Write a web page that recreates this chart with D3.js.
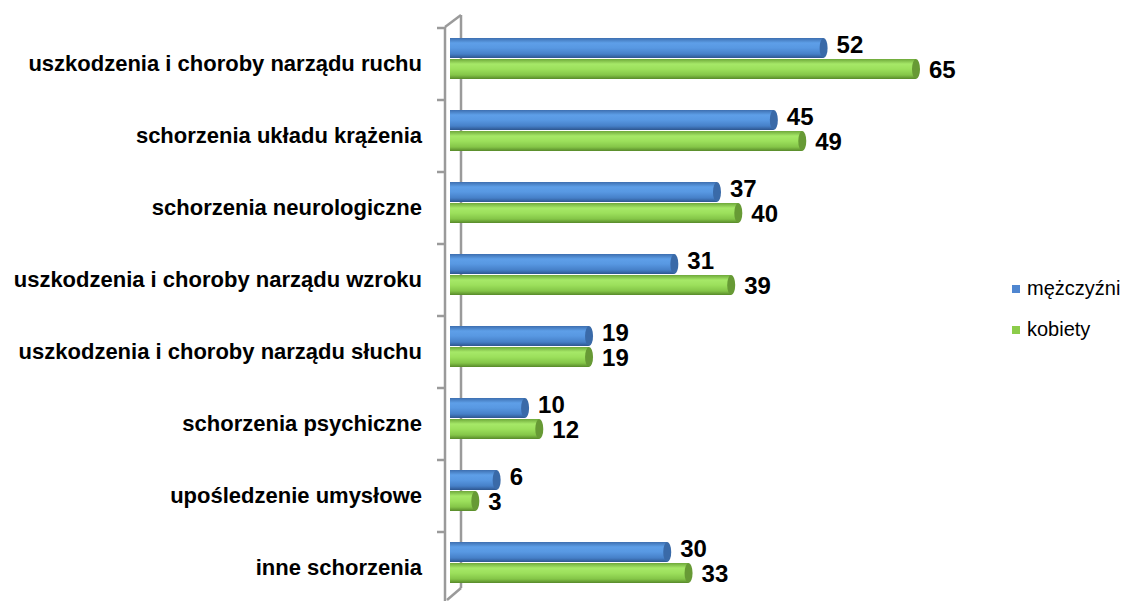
<!DOCTYPE html>
<html><head><meta charset="utf-8">
<script src="https://cdn.jsdelivr.net/npm/d3@7"></script>
<style>body{margin:0;background:#fff}svg{display:block}</style>
</head><body>
<script>
const categories = ["uszkodzenia i choroby narządu ruchu","schorzenia układu krążenia","schorzenia neurologiczne","uszkodzenia i choroby narządu wzroku","uszkodzenia i choroby narządu słuchu","schorzenia psychiczne","upośledzenie umysłowe","inne schorzenia"];
const men = [52,45,37,31,19,10,6,30];
const women = [65,49,40,39,19,12,3,33];
const seriesNames = ["mężczyźni","kobiety"];

const W=1128,H=601;
const svg=d3.select("body").append("svg").attr("width",W).attr("height",H);
const defs=svg.append("defs");
function grad(id,stops){const g=defs.append("linearGradient").attr("id",id).attr("x1",0).attr("y1",0).attr("x2",0).attr("y2",1);
 stops.forEach(s=>g.append("stop").attr("offset",s[0]).attr("stop-color",s[1]));}
grad("gBlue",[[0,"#3d6fb0"],[0.25,"#5e9fe8"],[0.5,"#5898e2"],[0.8,"#4680c8"],[1,"#2d568f"]]);
grad("gGreen",[[0,"#6ea83a"],[0.25,"#a6e868"],[0.5,"#9ce05c"],[0.8,"#84c548"],[1,"#57892a"]]);

const y=d3.scaleBand().domain(categories).range([28,604]);
const x=d3.scaleLinear().domain([0,65]).range([454,916]);
const depth=12, dx=16;

const ax=svg.append("g").attr("stroke","#9a9a9a").attr("stroke-width",2.5).attr("fill","none");
ax.append("line").attr("x1",445).attr("x2",445).attr("y1",27).attr("y2",H);
ax.append("line").attr("x1",445+dx).attr("x2",445+dx).attr("y1",27-depth).attr("y2",588);
ax.append("line").attr("x1",445).attr("x2",445+dx).attr("y1",27).attr("y2",27-depth);
ax.append("line").attr("x1",447).attr("x2",445+dx).attr("y1",600).attr("y2",588);
ax.selectAll(".tk").data(categories.concat(["_end"])).join("line")
  .attr("x1",437).attr("x2",445)
  .attr("y1",d=>d==="_end"?604:y(d)).attr("y2",d=>d==="_end"?604:y(d));

const FF="Liberation Sans, Arial, sans-serif";
svg.append("g").selectAll("text").data(categories).join("text")
 .attr("x",422).attr("y",d=>y(d)+y.bandwidth()/2+1).attr("text-anchor","end").attr("dominant-baseline","middle")
 .attr("font-family",FF).attr("font-weight","bold").attr("font-size",22).attr("fill","#000").text(d=>d);

const bh=20, x0=450;
const series=[{vals:men,off:10,fill:"url(#gBlue)",cap:"#3a6aa8",lab:-1},{vals:women,off:31,fill:"url(#gGreen)",cap:"#679a35",lab:3}];
series.forEach(s=>{
 const g=svg.append("g");
 categories.forEach((c,i)=>{
  const v=s.vals[i], top=y(c)+s.off;
  g.append("rect").attr("x",x0).attr("y",top).attr("width",x(v)-x0).attr("height",bh).attr("fill",s.fill);
  g.append("ellipse").attr("cx",x(v)).attr("cy",top+bh/2).attr("rx",4).attr("ry",bh/2).attr("fill",s.cap);
  g.append("text").attr("x",x(v)+13).attr("y",top+bh/2+s.lab).attr("dominant-baseline","middle")
   .attr("font-family",FF).attr("font-weight","bold").attr("font-size",24).text(v);
 });
});

const lg=svg.append("g");
[["#4f86d0",289],["#8ccc4a",330]].forEach((d,i)=>{
 lg.append("rect").attr("x",1012).attr("y",d[1]-4).attr("width",8).attr("height",8).attr("fill",d[0]);
 lg.append("text").attr("x",1027).attr("y",d[1]+1).attr("dominant-baseline","middle")
  .attr("font-family",FF).attr("font-size",20).text(seriesNames[i]);
});
</script>
</body></html>
